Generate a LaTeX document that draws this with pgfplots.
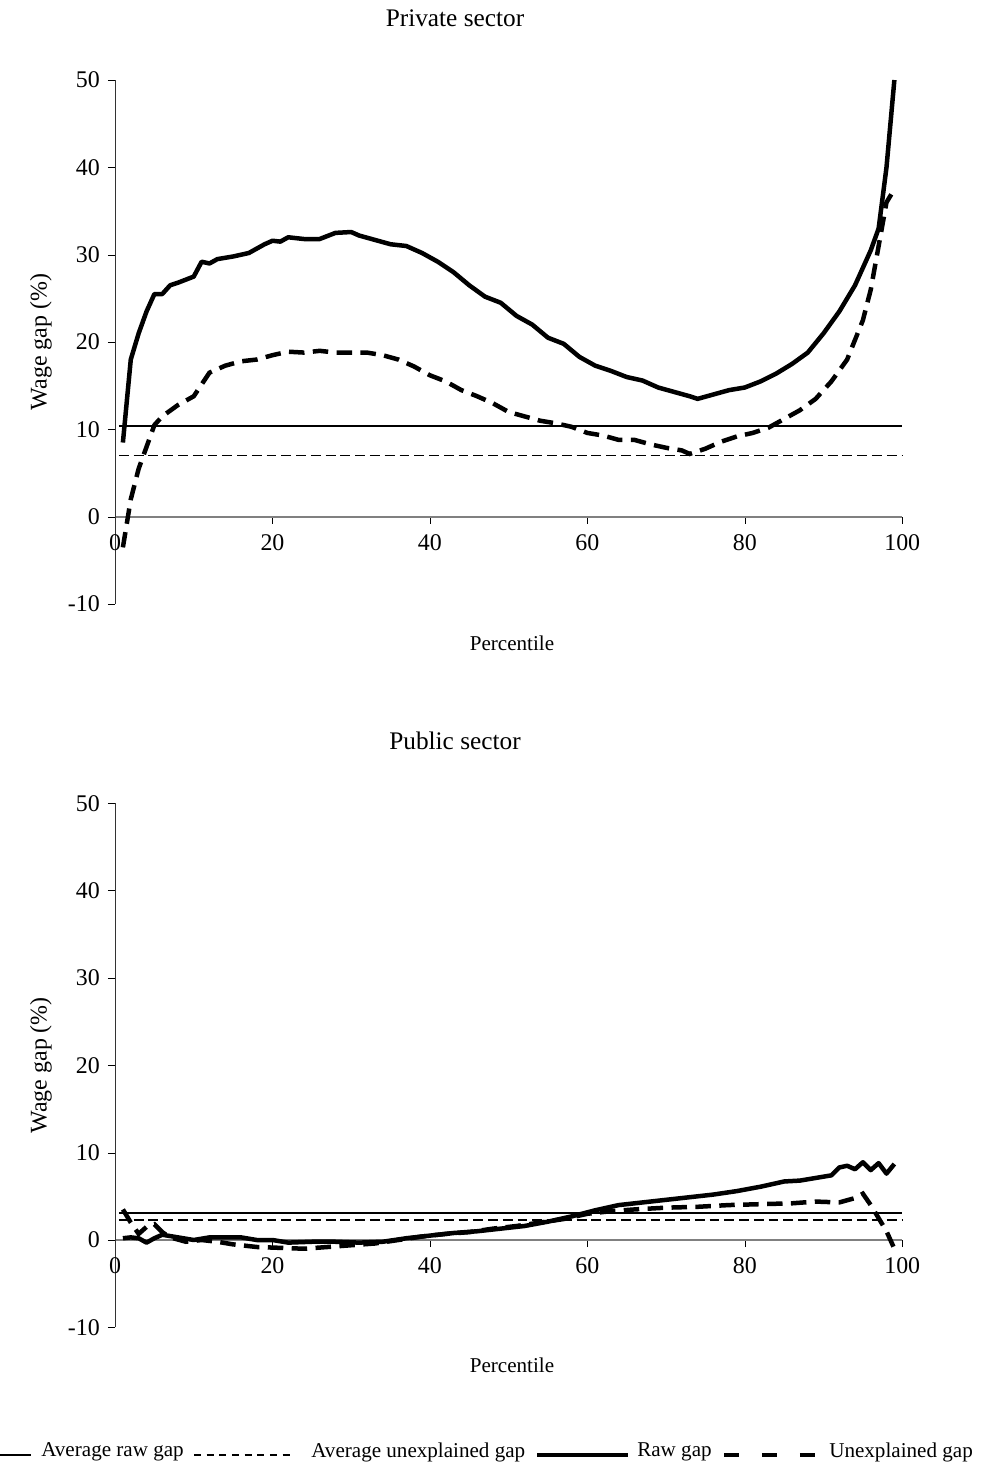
\documentclass[border=0pt]{standalone}
\usepackage{pgfplots}
\pgfplotsset{compat=1.18}
\usepackage{fontspec}
\setmainfont{Liberation Serif}
\tikzset{
 raw/.style={black, line width=3.2pt, line join=round},
 unex/.style={black, line width=3.2pt, dash pattern=on 11pt off 6pt},
 araw/.style={black, line width=1.1pt},
 aunex/.style={black, line width=1.1pt, dash pattern=on 7pt off 3.5pt},
}
\newcommand\fs{\fontsize{17}{20}\selectfont}
\newcommand\fl{\fontsize{15}{18}\selectfont}
\begin{document}
\fs
\begin{tikzpicture}
\begin{scope}[x=0.025cm,y=-0.025cm]
\useasboundingbox (0,0) rectangle (980,1471);
\node at (455,18) {\fontsize{18}{21}\selectfont Private sector};
\node at (512,643) {\fl Percentile};
\node at (455,741) {\fontsize{18}{21}\selectfont Public sector};
\node at (512,1365) {\fl Percentile};
\draw[araw] (0,1455)--(31,1455);
\node[anchor=west,inner sep=0pt] at (41,1452) {\fl Average raw gap};
\draw[araw,dash pattern=on 5pt off 4pt] (194,1455)--(294,1455);
\node[anchor=west,inner sep=0pt] at (311,1452) {\fl Average unexplained gap};
\draw[raw] (537,1455)--(628,1455);
\node[anchor=west,inner sep=0pt] at (637,1452) {\fl Raw gap};
\draw[raw,dash pattern=on 11pt off 16pt] (724,1455)--(819,1455);
\node[anchor=west,inner sep=0pt] at (829,1452) {\fl Unexplained gap};
\end{scope}
\pgfplotsset{
 myax/.style={scale only axis, width=19.675cm, height=13.1cm,
  xmin=0,xmax=100,ymin=-10,ymax=50,
  axis x line=middle, axis y line=left,
  x axis line style={-,gray,line width=1pt}, y axis line style={-,black!80},
  hide obscured x ticks=false,
  xtick={0,20,...,100}, ytick={-10,0,...,50},
  tick style={black}, major tick length=5pt, tick align=outside,
  every tick label/.append style={font=\fs},
  /pgf/number format/assume math mode=true,
  x tick label style={yshift=-2pt},
  ylabel={Wage gap (\%)}, ylabel style={font=\fl},
  every axis y label/.style={at={(ticklabel cs:0.5)},rotate=90,anchor=near ticklabel},
  clip=false},
}
\begin{axis}[myax, at={(2.875cm,-15.1cm)}, anchor=south west]
\addplot[araw] coordinates {(0.5,10.4)(100,10.4)};
\addplot[aunex] coordinates {(0.5,7.0)(100,7.0)};
\addplot[raw] coordinates {(1,8.5)(2,18)(3,21)(4,23.5)(5,25.5)(6,25.5)(7,26.5)(8,26.8)(10,27.5)(11,29.2)(12,29)(13,29.5)(15,29.8)(17,30.2)(19,31.2)(20,31.6)(21,31.5)(22,32)(24,31.8)(26,31.8)(28,32.5)(30,32.6)(31,32.2)(33,31.7)(35,31.2)(37,31)(39,30.2)(41,29.2)(43,28)(45,26.5)(47,25.2)(49,24.5)(51,23)(53,22)(55,20.5)(57,19.8)(59,18.3)(61,17.3)(63,16.7)(65,16.0)(67,15.6)(69,14.8)(71,14.3)(73,13.8)(74,13.5)(76,14)(78,14.5)(80,14.8)(82,15.5)(84,16.4)(86,17.5)(88,18.8)(90,21)(92,23.5)(94,26.5)(96,30.5)(97,33)(98,40)(99,50)};
\addplot[unex] coordinates {(1,-3.5)(2,2)(3,5.5)(4,8)(5,10.5)(6,11.5)(8,12.8)(10,13.8)(12,16.5)(14,17.3)(16,17.8)(18,18)(20,18.5)(22,18.9)(24,18.8)(26,19)(28,18.8)(30,18.8)(32,18.8)(34,18.5)(36,18)(38,17.2)(40,16.2)(42,15.5)(44,14.5)(46,13.8)(48,13)(50,12)(52,11.5)(54,11.0)(56,10.7)(58,10.3)(60,9.6)(62,9.3)(64,8.8)(66,8.8)(68,8.3)(70,7.9)(72,7.6)(73,7.2)(75,7.8)(77,8.6)(79,9.2)(81,9.6)(83,10.2)(85,11.2)(87,12.2)(89,13.5)(91,15.5)(93,18)(95,22.5)(96,26)(97,31)(98,36)(99,37.5)};
\end{axis}
\begin{axis}[myax, at={(2.875cm,-33.175cm)}, anchor=south west]
\addplot[araw] coordinates {(0.5,3.1)(100,3.1)};
\addplot[aunex] coordinates {(0.5,2.3)(100,2.3)};
\addplot[raw] coordinates {(1,0.2)(2,0.3)(3,0.2)(4,-0.3)(5,0.2)(6,0.6)(8,0.3)(10,0)(12,0.3)(14,0.3)(16,0.3)(18,0)(20,0)(22,-0.3)(25,-0.2)(28,-0.2)(31,-0.3)(34,-0.2)(37,0.2)(40,0.5)(43,0.8)(46,1.0)(49,1.3)(52,1.6)(55,2.1)(58,2.7)(61,3.4)(64,4.0)(67,4.3)(70,4.6)(73,4.9)(76,5.2)(79,5.6)(82,6.1)(85,6.7)(87,6.8)(89,7.1)(91,7.4)(92,8.3)(93,8.5)(94,8.1)(95,8.9)(96,8.0)(97,8.8)(98,7.6)(99,8.7)};
\addplot[unex] coordinates {(1,3.5)(2,2)(3,0.7)(4,1.5)(5,1.8)(6,0.9)(7,0.3)(9,-0.2)(11,0)(13,-0.2)(15,-0.5)(18,-0.8)(21,-0.9)(24,-1.0)(27,-0.8)(30,-0.6)(33,-0.4)(36,0)(39,0.4)(42,0.7)(45,0.9)(48,1.3)(51,1.6)(54,2.0)(57,2.4)(60,3.0)(63,3.3)(66,3.5)(70,3.7)(74,3.8)(78,4.0)(82,4.1)(86,4.2)(89,4.4)(92,4.3)(94,4.8)(95,5.3)(96,4.0)(97,2.5)(98,1.0)(99,-1.0)};
\end{axis}
\end{tikzpicture}
\end{document}
